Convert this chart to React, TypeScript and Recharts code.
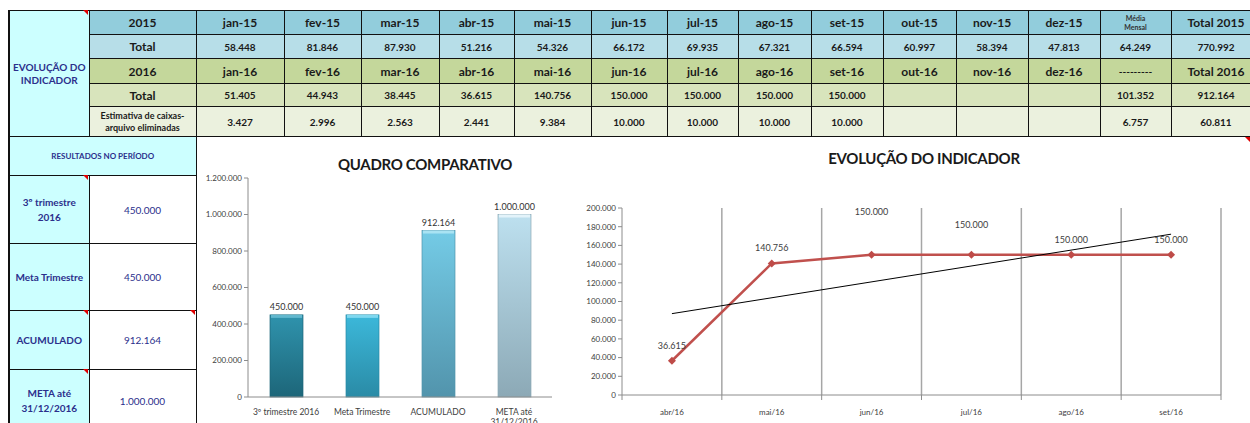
import React from 'react';
import {
  BarChart, Bar, LineChart, Line, XAxis, YAxis, Cell, LabelList, ReferenceLine,
} from 'recharts';

// dados da planilha
const meses2015 = ['jan-15', 'fev-15', 'mar-15', 'abr-15', 'mai-15', 'jun-15', 'jul-15', 'ago-15', 'set-15', 'out-15', 'nov-15', 'dez-15'];
const total2015 = [58448, 81846, 87930, 51216, 54326, 66172, 69935, 67321, 66594, 60997, 58394, 47813];
const media2015 = 64249;
const soma2015 = 770992;

const meses2016 = ['jan-16', 'fev-16', 'mar-16', 'abr-16', 'mai-16', 'jun-16', 'jul-16', 'ago-16', 'set-16', 'out-16', 'nov-16', 'dez-16'];
const total2016 = [51405, 44943, 38445, 36615, 140756, 150000, 150000, 150000, 150000, null, null, null];
const media2016 = 101352;
const soma2016 = 912164;

const caixas2016 = [3427, 2996, 2563, 2441, 9384, 10000, 10000, 10000, 10000, null, null, null];
const mediaCaixas = 6757;
const somaCaixas = 60811;

// quadro comparativo
const categorias = ['3º trimestre 2016', 'Meta Trimestre', 'ACUMULADO', 'META até 31/12/2016'];
const valoresQuadro = [450000, 450000, 912164, 1000000];
const ticksQuadro = [0, 200000, 400000, 600000, 800000, 1000000, 1200000];

// evolução do indicador
const mesesLinha = ['abr/16', 'mai/16', 'jun/16', 'jul/16', 'ago/16', 'set/16'];
const valoresLinha = [36615, 140756, 150000, 150000, 150000, 150000];
const tendencia = [87000, null, null, null, null, 172000];
const ticksLinha = [0, 20000, 40000, 60000, 80000, 100000, 120000, 140000, 160000, 180000, 200000];

// estilo
const liftRotulo = [12, 12, 40, 27, 12, 12];
const gradientes = [
  ['#2F93AD', '#1D6679', '#62B8CE'],
  ['#3CB8DA', '#2A8BA6', '#7FD8EF'],
  ['#74CBE6', '#5294AC', '#A9E3F3'],
  ['#BDE0EF', '#8CA9B6', '#E3F3FA'],
];
const azul = '#2B2F8C';
const fonte = 'Lato, "Open Sans", sans-serif';

const fmt = (n: number | null) =>
  n == null ? '' : String(Math.round(n)).replace(/\B(?=(\d{3})+(?!\d))/g, '.');

const dadosQuadro = categorias.map((c, i) => ({ nome: c, valor: valoresQuadro[i] }));
const dadosLinha = mesesLinha.map((m, i) => ({ i, mes: m, valor: valoresLinha[i], tend: tendencia[i] }));

const colW = [80, 107, 88, 77, 78, 75, 77, 76, 71, 73, 72, 73, 72, 72, 71, 90];

const cell = (extra: React.CSSProperties = {}): React.CSSProperties => ({
  border: '1px solid #111',
  textAlign: 'center',
  verticalAlign: 'middle',
  fontWeight: 700,
  padding: 0,
  overflow: 'hidden',
  whiteSpace: 'nowrap',
  color: '#1a1a1a',
  ...extra,
});

const Triangulo = ({ left, top }: { left: number; top: number }) => (
  <div style={{
    position: 'absolute', left: left - 5, top, width: 0, height: 0,
    borderTop: '5px solid #E00000', borderLeft: '5px solid transparent',
  }} />
);

const TabelaTopo = () => (
  <table style={{
    position: 'absolute', left: 8, top: 10, borderCollapse: 'collapse', tableLayout: 'fixed',
    width: colW.reduce((a, b) => a + b, 0), fontFamily: fonte,
  }}>
    <colgroup>{colW.map((w, k) => <col key={k} style={{ width: w }} />)}</colgroup>
    <tbody>
      <tr style={{ height: 24, background: '#92CDDC' }}>
        <td rowSpan={5} style={cell({ background: '#CCFFFF', color: azul, fontSize: 10, whiteSpace: 'normal', lineHeight: '13px', borderLeft: '2px solid #111' })}>
          EVOLUÇÃO DO INDICADOR
        </td>
        <td style={cell({ fontSize: 12 })}>2015</td>
        {meses2015.map((m) => <td key={m} style={cell({ fontSize: 12 })}>{m}</td>)}
        <td style={cell({ fontSize: 7, lineHeight: '9px', color: '#333' })}>Média<br />Mensal</td>
        <td style={cell({ fontSize: 12 })}>Total 2015</td>
      </tr>
      <tr style={{ height: 24, background: '#B7DEE8' }}>
        <td style={cell({ fontSize: 12 })}>Total</td>
        {total2015.map((v, k) => <td key={k} style={cell({ fontSize: 10 })}>{fmt(v)}</td>)}
        <td style={cell({ fontSize: 10 })}>{fmt(media2015)}</td>
        <td style={cell({ fontSize: 10 })}>{fmt(soma2015)}</td>
      </tr>
      <tr style={{ height: 25, background: '#C4D79B' }}>
        <td style={cell({ fontSize: 12 })}>2016</td>
        {meses2016.map((m) => <td key={m} style={cell({ fontSize: 12 })}>{m}</td>)}
        <td style={cell({ fontSize: 10 })}>---------</td>
        <td style={cell({ fontSize: 12 })}>Total 2016</td>
      </tr>
      <tr style={{ height: 23, background: '#D8E4BC' }}>
        <td style={cell({ fontSize: 12 })}>Total</td>
        {total2016.map((v, k) => <td key={k} style={cell({ fontSize: 10 })}>{fmt(v)}</td>)}
        <td style={cell({ fontSize: 10 })}>{fmt(media2016)}</td>
        <td style={cell({ fontSize: 10 })}>{fmt(soma2016)}</td>
      </tr>
      <tr style={{ height: 30, background: '#EBF1DE' }}>
        <td style={cell({ fontSize: 9, whiteSpace: 'normal', lineHeight: '12px' })}>Estimativa de caixas-arquivo eliminadas</td>
        {caixas2016.map((v, k) => <td key={k} style={cell({ fontSize: 10 })}>{fmt(v)}</td>)}
        <td style={cell({ fontSize: 10 })}>{fmt(mediaCaixas)}</td>
        <td style={cell({ fontSize: 10 })}>{fmt(somaCaixas)}</td>
      </tr>
    </tbody>
  </table>
);

const TabelaResultados = () => {
  const rotulo = cell({ background: '#CCFFFF', color: azul, fontSize: 10, whiteSpace: 'normal', lineHeight: '15px', borderLeft: '2px solid #111' });
  const valor = cell({ background: '#fff', color: azul, fontSize: 10, fontWeight: 400 });
  return (
    <table style={{
      position: 'absolute', left: 8, top: 136, borderCollapse: 'collapse', tableLayout: 'fixed',
      width: 187, fontFamily: fonte,
    }}>
      <colgroup><col style={{ width: 80 }} /><col style={{ width: 107 }} /></colgroup>
      <tbody>
        <tr style={{ height: 39 }}>
          <td colSpan={2} style={cell({ background: '#CCFFFF', color: azul, fontSize: 8, borderLeft: '2px solid #111' })}>RESULTADOS NO PERÍODO</td>
        </tr>
        {categorias.map((c, k) => (
          <tr key={c} style={{ height: [68, 67, 59, 62][k] }}>
            <td style={rotulo}>{c}</td>
            <td style={valor}>{fmt(valoresQuadro[k])}</td>
          </tr>
        ))}
      </tbody>
    </table>
  );
};

const TickQuadro = (props: any) => {
  const { x, y, payload } = props;
  const words = String(payload.value).split(' ');
  const lines: string[] = [];
  let cur = '';
  words.forEach((w) => {
    const t = cur ? cur + ' ' + w : w;
    if (t.length > 17 && cur) { lines.push(cur); cur = w; } else cur = t;
  });
  lines.push(cur);
  return (
    <text x={x} y={y + 10} textAnchor="middle" fontSize={8.5} fill="#404040" fontFamily={fonte}>
      {lines.map((l, k) => <tspan key={k} x={x} dy={k === 0 ? 0 : 10}>{l}</tspan>)}
    </text>
  );
};

const BarraRelevo = (props: any) => {
  const { x, y, width, height, index } = props;
  const g = gradientes[index];
  return (
    <g>
      <rect x={x} y={y} width={width} height={height} fill={`url(#grad${index})`} stroke={g[1]} strokeWidth={0.7} />
      <rect x={x + 1} y={y} width={width - 2} height={3} fill={g[2]} />
    </g>
  );
};

const Diamante = (props: any) => {
  const { cx, cy } = props;
  if (cx == null || cy == null) return null;
  return <polygon points={`${cx},${cy - 4} ${cx + 4},${cy} ${cx},${cy + 4} ${cx - 4},${cy}`} fill="#BE4B48" />;
};

const RotuloLinha = (props: any) => {
  const { x, y, value, index } = props;
  return (
    <text x={x} y={y - liftRotulo[index]} textAnchor="middle" fontSize={9} fill="#404040" fontFamily={fonte}>
      {fmt(value)}
    </text>
  );
};

const titulo: React.CSSProperties = {
  position: 'absolute', width: 400, textAlign: 'center', fontFamily: fonte, fontWeight: 700,
  fontSize: 15, lineHeight: '18px', color: '#1a1a1a', letterSpacing: -0.3,
};

export default function App() {
  return (
    <div style={{ position: 'absolute', left: 0, top: 0, width: 1250, height: 423, overflow: 'hidden', background: '#fff' }}>
      <TabelaTopo />
      <TabelaResultados />
      <Triangulo left={88} top={10} />
      <Triangulo left={88} top={175} />
      <Triangulo left={88} top={310} />
      <Triangulo left={195} top={310} />
      <Triangulo left={88} top={369} />
      <Triangulo left={1250} top={137} />

      <div style={{ ...titulo, left: 225, top: 155 }}>QUADRO COMPARATIVO</div>
      <div style={{ position: 'absolute', left: 195, top: 140 }}>
        <BarChart width={365} height={283} data={dadosQuadro} margin={{ top: 38, right: 8, left: 0, bottom: 0 }}>
          <defs>
            {gradientes.map((g, k) => (
              <linearGradient key={k} id={`grad${k}`} x1="0" y1="0" x2="0" y2="1">
                <stop offset="0%" stopColor={g[0]} />
                <stop offset="100%" stopColor={g[1]} />
              </linearGradient>
            ))}
          </defs>
          <XAxis dataKey="nome" height={26} interval={0} tickLine={false} stroke="#8C8C8C" tick={<TickQuadro />} />
          <YAxis width={53} domain={[0, 1200000]} ticks={ticksQuadro} tickFormatter={fmt} tickSize={4}
            stroke="#8C8C8C" tick={{ fontSize: 8, fill: '#404040', fontFamily: fonte }} />
          <Bar dataKey="valor" barSize={33} isAnimationActive={false} shape={<BarraRelevo />}>
            {dadosQuadro.map((_, k) => <Cell key={k} fill={`url(#grad${k})`} />)}
            <LabelList dataKey="valor" position="top" offset={5} formatter={(v: any) => fmt(v)}
              style={{ fontSize: 9, fill: '#333', fontFamily: fonte }} />
          </Bar>
        </BarChart>
      </div>

      <div style={{ ...titulo, left: 724, top: 149 }}>EVOLUÇÃO DO INDICADOR</div>
      <div style={{ position: 'absolute', left: 560, top: 140 }}>
        <LineChart width={690} height={283} data={dadosLinha} margin={{ top: 68, right: 29, left: 0, bottom: 0 }}>
          <XAxis xAxisId="marcas" dataKey="i" type="number" domain={[-0.5, mesesLinha.length - 0.5]}
            ticks={mesesLinha.map((_, k) => k - 0.5).concat([mesesLinha.length - 0.5])}
            tickFormatter={() => ''} tickSize={5} height={6} stroke="#8C8C8C" />
          <XAxis xAxisId="rotulos" dataKey="i" type="number" domain={[-0.5, mesesLinha.length - 0.5]}
            ticks={mesesLinha.map((_, k) => k)} tickFormatter={(v: number) => mesesLinha[v]}
            axisLine={false} tickLine={false} height={22}
            tick={{ fontSize: 8, fill: '#404040', fontFamily: fonte }} />
          <YAxis width={62} domain={[0, 200000]} ticks={ticksLinha} tickFormatter={fmt} tickSize={4}
            stroke="#8C8C8C" tick={{ fontSize: 8, fill: '#404040', fontFamily: fonte }} />
          {mesesLinha.map((_, k) => (
            <ReferenceLine key={k} xAxisId="marcas" x={k + 0.5} stroke="#A6A6A6" strokeWidth={1.5} />
          ))}
          <Line xAxisId="marcas" dataKey="valor" stroke="#C0504D" strokeWidth={2.5} dot={<Diamante />}
            activeDot={false} isAnimationActive={false}>
            <LabelList dataKey="valor" content={<RotuloLinha />} />
          </Line>
          <Line xAxisId="marcas" dataKey="tend" stroke="#000" strokeWidth={1} dot={false} connectNulls
            activeDot={false} isAnimationActive={false} />
        </LineChart>
      </div>
    </div>
  );
}
